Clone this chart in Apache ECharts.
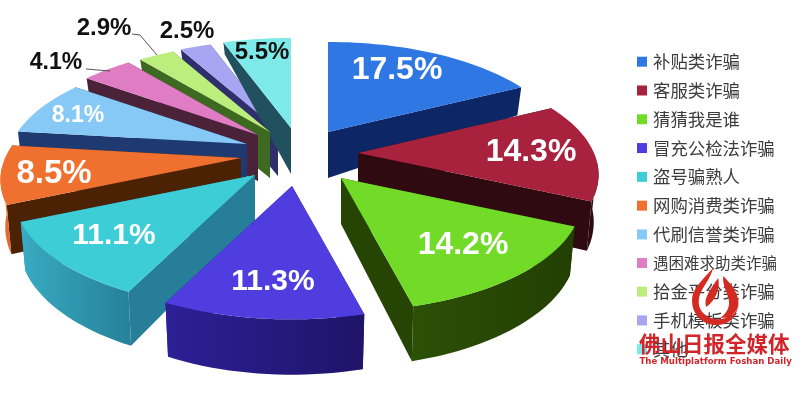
<!DOCTYPE html>
<html lang="zh">
<head>
<meta charset="UTF-8">
<title>诈骗类型占比</title>
<script src="https://cdn.jsdelivr.net/npm/echarts@6/dist/echarts.min.js"></script>
<style>
    html, body { margin: 0; padding: 0; background: #fff; }
    #container { width: 800px; height: 401px; }
</style>
</head>
<body>
<div id="container"></div>
<script type="text/javascript">
    // 数据
    var categories = ['补贴类诈骗', '客服类诈骗', '猜猜我是谁', '冒充公检法诈骗', '盗号骗熟人', '网购消费类诈骗',
        '代刷信誉类诈骗', '遇困难求助类诈骗', '拾金平分类诈骗', '手机模板类诈骗', '其他'];
    var values = [17.5, 14.3, 14.2, 11.3, 11.1, 8.5, 8.1, 4.1, 2.9, 2.5, 5.5];

    // 颜色：顶面 / 径向侧面 / 外弧侧面(左右渐变)
    var topColors = ['#2f78e4', '#a8213d', '#71db28', '#4f3de0', '#3ccdd6', '#f0702f',
        '#86c9f6', '#e07cc4', '#bcee7e', '#a8a6f2', '#7ee9e9'];
    var wallColors = ['#0d2766', '#2f0a10', '#264504', '#2d1f96', '#267e98', '#4b2304',
        '#1f3a70', '#4a2338', '#3d6a20', '#2f2f6e', '#21515f'];
    var rimColors = [['#0d2766', '#0d2766'], ['#2f0a10', '#2f0a10'], ['#2c5006', '#233f04'], ['#2d1f96', '#1f1468'],
        ['#38abc2', '#27809a'], ['#f0702f', '#e0662a'], ['#1f3a70', '#1f3a70'], ['#4a2338', '#4a2338'],
        ['#3d6a20', '#3d6a20'], ['#2f2f6e', '#2f2f6e'], ['#21515f', '#21515f']];

    // 每块饼分离后的圆心、标签位置、字号、绘制层次
    var apexes = [[328, 132], [358, 153], [341, 178], [292, 186], [255, 175], [241, 158],
        [247, 144], [258, 135], [270, 132], [278, 130], [291, 128]];
    var labelPos = [[397, 70], [531, 152], [463, 245], [273, 282], [114, 236], [54, 174],
        [78, 116], [56, 63], [104, 28], [187, 31], [262, 52]];
    var labelSizes = [32, 32, 32, 30, 30, 33, 23, 23, 24, 24, 24];
    var labelColors = ['#fff', '#fff', '#fff', '#fff', '#fff', '#fff', '#fff', '#111', '#111', '#111', '#111'];
    var paintRank = [7, 8, 9, 6, 5, 4, 3, 2, 1, 0, 0];
    var leaders = { 7: [[86, 69], [110, 71]], 8: [[132, 34], [140, 35], [157, 55]] };

    // 透视参数
    var RX = 236, RY = 107.5, PERSP = 0.194, DEPTH = 46;
    var RIM_FROM = 95, RIM_TO = 265;
    var total = values.reduce(function (a, b) { return a + b; }, 0);

    function topPoint(apex, deg) {
        var t = deg * Math.PI / 180;
        var d = 1 + PERSP * Math.cos(t);
        return [apex[0] + RX * Math.sin(t) / d, apex[1] - RY * Math.cos(t) / d];
    }
    function bottomPoint(apex, deg) {
        var p = topPoint(apex, deg);
        var ox = p[0] - apex[0], oy = p[1] - apex[1];
        // 后方的侧面明显变薄，前方略厚
        var depth = DEPTH + (oy < 0 ? 0.4 : 0.07) * oy;
        return [apex[0] + ox * 0.98, apex[1] + oy + depth];
    }
    function arc(fn, apex, from, to) {
        var pts = [];
        var n = Math.max(2, Math.ceil((to - from) / 2));
        for (var i = 0; i <= n; i++) {
            pts.push(fn(apex, from + (to - from) * i / n));
        }
        return pts;
    }

    function makeRender(idx) {
        var before = 0;
        for (var k = 0; k < idx; k++) before += values[k];
        return function (params, api) {
            var start = before / total * 360;
            var end = (before + api.value(0)) / total * 360;
            var apex = apexes[idx];
            var base = [apex[0], apex[1] + DEPTH];
            var children = [];
            [start, end].forEach(function (deg) {
                children.push({
                    type: 'polygon',
                    shape: { points: [apex, topPoint(apex, deg), bottomPoint(apex, deg), base] },
                    style: { fill: wallColors[idx] }
                });
            });
            var rimA = Math.max(start, RIM_FROM), rimB = Math.min(end, RIM_TO);
            if (rimB > rimA) {
                var upper = arc(topPoint, apex, rimA, rimB);
                var lower = arc(bottomPoint, apex, rimA, rimB).reverse();
                children.push({
                    type: 'polygon',
                    shape: { points: upper.concat(lower) },
                    style: {
                        fill: new echarts.graphic.LinearGradient(0, 0, 1, 0, [
                            { offset: 0, color: rimColors[idx][0] },
                            { offset: 1, color: rimColors[idx][1] }
                        ])
                    }
                });
            }
            children.push({
                type: 'polygon',
                shape: { points: [apex].concat(arc(topPoint, apex, start, end)) },
                style: { fill: topColors[idx] }
            });
            if (leaders[idx]) {
                children.push({
                    type: 'polyline',
                    shape: { points: leaders[idx] },
                    style: { stroke: '#555', lineWidth: 1, fill: null }
                });
            }
            children.push({
                type: 'text',
                x: labelPos[idx][0],
                y: labelPos[idx][1],
                style: {
                    text: api.value(0).toFixed(1) + '%',
                    fill: labelColors[idx],
                    font: 'bold ' + labelSizes[idx] + 'px "Liberation Sans", Arial, sans-serif',
                    align: 'center',
                    verticalAlign: 'middle'
                }
            });
            return { type: 'group', children: children };
        };
    }

    var series = categories.map(function (name, i) {
        return {
            name: name,
            type: 'custom',
            coordinateSystem: 'none',
            renderItem: makeRender(i),
            itemStyle: { color: topColors[i] },
            data: [[values[i]]],
            z: paintRank[i] + 2,
            silent: true,
            animation: false
        };
    });

    // 报纸水印的火焰标志
    var flamePath = 'M713 268 C700 282 692 290 692 300 C692 315 703 325 716 325 C728 325 736 318 738 305 C736 315 725 320 715 319 C703 317 697 308 699 298 C701 288 710 280 713 268 Z ' +
        'M723 276 C732 285 739 295 738 305 C736 315 728 318 720 318 C728 312 730 305 728 298 C726 290 722 285 723 276 Z ' +
        'M718 278 C720 288 716 300 706 307 C703 298 711 288 718 278 Z';
    series.push({
        name: 'logo',
        type: 'custom',
        coordinateSystem: 'none',
        z: 100,
        silent: true,
        animation: false,
        data: [[0]],
        renderItem: function () {
            return {
                type: 'path',
                shape: { pathData: flamePath, x: 692, y: 268, width: 46.5, height: 57, layout: 'cover' },
                style: { fill: '#d42a22' }
            };
        }
    });

    var myChart = echarts.init(document.getElementById('container'), null, { renderer: 'canvas' });
    myChart.setOption({
        animation: false,
        backgroundColor: '#fff',
        legend: {
            data: categories,
            orient: 'vertical',
            left: 637,
            top: 53,
            padding: 0,
            icon: 'rect',
            itemWidth: 10,
            itemHeight: 10,
            itemGap: 11.4,
            selectedMode: false,
            // 八个字的一行在原图里被压窄
            formatter: function (name) {
                return name.length > 7 ? '{narrow|' + name + '}' : name;
            },
            textStyle: {
                fontFamily: '"Noto Sans CJK SC", sans-serif',
                fontSize: 17.4,
                lineHeight: 17,
                color: '#3c3c3c',
                padding: [0, 0, 0, 1],
                rich: {
                    narrow: {
                        fontFamily: '"Noto Sans CJK SC", sans-serif',
                        fontSize: 15.5,
                        lineHeight: 17,
                        color: '#3c3c3c'
                    }
                }
            }
        },
        graphic: {
            elements: [
                { type: 'text', z: 100, x: 639, y: 344, style: { text: '佛山日报全媒体', fill: '#d2252b', font: 'bold 21.5px "Noto Sans CJK SC", sans-serif', verticalAlign: 'middle' } },
                { type: 'text', z: 100, x: 639.5, y: 362, style: { text: 'The Multiplatform Foshan Daily', fill: '#d2252b', font: 'bold 8.6px "DejaVu Sans", sans-serif', verticalAlign: 'middle' } }
            ]
        },
        series: series
    });
    window.addEventListener('resize', myChart.resize);
</script>
</body>
</html>
